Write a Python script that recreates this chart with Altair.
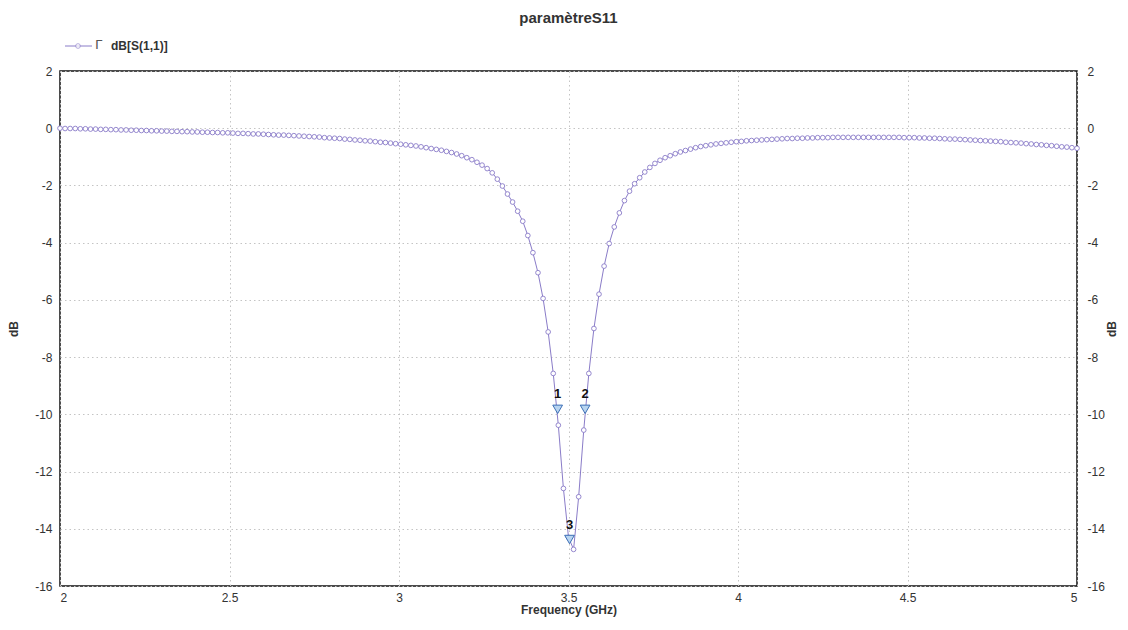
import altair as alt
import pandas as pd

freq_ghz = [
    2.000, 2.015, 2.030, 2.045, 2.060, 2.075, 2.090, 2.105, 2.120, 2.135,
    2.150, 2.165, 2.180, 2.195, 2.210, 2.225, 2.240, 2.255, 2.270, 2.285,
    2.300, 2.315, 2.330, 2.345, 2.360, 2.375, 2.390, 2.405, 2.420, 2.435,
    2.450, 2.465, 2.480, 2.495, 2.510, 2.525, 2.540, 2.555, 2.570, 2.585,
    2.600, 2.615, 2.630, 2.645, 2.660, 2.675, 2.690, 2.705, 2.720, 2.735,
    2.750, 2.765, 2.780, 2.795, 2.810, 2.825, 2.840, 2.855, 2.870, 2.885,
    2.900, 2.915, 2.930, 2.945, 2.960, 2.975, 2.990, 3.005, 3.020, 3.035,
    3.050, 3.065, 3.080, 3.095, 3.110, 3.125, 3.140, 3.155, 3.170, 3.185,
    3.200, 3.215, 3.230, 3.245, 3.260, 3.275, 3.290, 3.305, 3.320, 3.335,
    3.350, 3.365, 3.380, 3.395, 3.410, 3.425, 3.440, 3.455, 3.470, 3.485,
    3.500, 3.515, 3.530, 3.545, 3.560, 3.575, 3.590, 3.605, 3.620, 3.635,
    3.650, 3.665, 3.680, 3.695, 3.710, 3.725, 3.740, 3.755, 3.770, 3.785,
    3.800, 3.815, 3.830, 3.845, 3.860, 3.875, 3.890, 3.905, 3.920, 3.935,
    3.950, 3.965, 3.980, 3.995, 4.010, 4.025, 4.040, 4.055, 4.070, 4.085,
    4.100, 4.115, 4.130, 4.145, 4.160, 4.175, 4.190, 4.205, 4.220, 4.235,
    4.250, 4.265, 4.280, 4.295, 4.310, 4.325, 4.340, 4.355, 4.370, 4.385,
    4.400, 4.415, 4.430, 4.445, 4.460, 4.475, 4.490, 4.505, 4.520, 4.535,
    4.550, 4.565, 4.580, 4.595, 4.610, 4.625, 4.640, 4.655, 4.670, 4.685,
    4.700, 4.715, 4.730, 4.745, 4.760, 4.775, 4.790, 4.805, 4.820, 4.835,
    4.850, 4.865, 4.880, 4.895, 4.910, 4.925, 4.940, 4.955, 4.970, 4.985,
    5.000,
]

s11_db = [
    0.00, -0.01, -0.01, -0.01, -0.02, -0.02, -0.03, -0.03, -0.04, -0.04,
    -0.05, -0.05, -0.06, -0.06, -0.07, -0.07, -0.08, -0.08, -0.09, -0.09,
    -0.10, -0.10, -0.11, -0.11, -0.12, -0.12, -0.13, -0.13, -0.14, -0.14,
    -0.15, -0.15, -0.16, -0.16, -0.17, -0.18, -0.18, -0.19, -0.20, -0.20,
    -0.21, -0.22, -0.23, -0.24, -0.24, -0.25, -0.26, -0.27, -0.28, -0.29,
    -0.30, -0.31, -0.33, -0.34, -0.35, -0.36, -0.38, -0.39, -0.41, -0.42,
    -0.44, -0.45, -0.47, -0.49, -0.50, -0.52, -0.54, -0.56, -0.58, -0.60,
    -0.62, -0.65, -0.68, -0.71, -0.74, -0.77, -0.81, -0.85, -0.90, -0.96,
    -1.03, -1.10, -1.19, -1.29, -1.41, -1.56, -1.78, -2.02, -2.30, -2.58,
    -2.90, -3.25, -3.75, -4.35, -5.05, -5.95, -7.12, -8.57, -10.38, -12.59,
    -14.30, -14.72, -12.88, -10.55, -8.57, -7.00, -5.80, -4.82, -4.03, -3.45,
    -2.96, -2.53, -2.20, -1.94, -1.73, -1.53, -1.37, -1.23, -1.12, -1.03,
    -0.96, -0.89, -0.83, -0.78, -0.73, -0.68, -0.64, -0.61, -0.58, -0.55,
    -0.53, -0.51, -0.49, -0.47, -0.46, -0.44, -0.43, -0.42, -0.41, -0.40,
    -0.39, -0.38, -0.37, -0.36, -0.36, -0.35, -0.35, -0.34, -0.34, -0.33,
    -0.33, -0.33, -0.32, -0.32, -0.32, -0.32, -0.32, -0.32, -0.32, -0.32,
    -0.32, -0.32, -0.32, -0.32, -0.32, -0.32, -0.33, -0.33, -0.33, -0.34,
    -0.34, -0.35, -0.35, -0.36, -0.37, -0.38, -0.38, -0.39, -0.40, -0.41,
    -0.42, -0.43, -0.44, -0.45, -0.46, -0.47, -0.49, -0.50, -0.51, -0.52,
    -0.54, -0.55, -0.57, -0.58, -0.60, -0.61, -0.63, -0.65, -0.66, -0.68,
    -0.70,
]

marker_labels = ["1", "2", "3"]
marker_freq = [3.468, 3.549, 3.503]
marker_db = [-10.0, -10.0, -14.55]

x_ticks = [2, 2.5, 3, 3.5, 4, 4.5, 5]
y_ticks = [2, 0, -2, -4, -6, -8, -10, -12, -14, -16]

LINE = "#8a7cc8"
FONT = "Liberation Sans"
W, H = 1017, 515
GRID = "#c4c4c4"

df = pd.DataFrame({"f": freq_ghz, "db": s11_db})
mk = pd.DataFrame({"f": marker_freq, "db": marker_db, "lab": marker_labels})

x_scale = alt.Scale(domain=[2, 5], nice=False, zero=False)
y_scale = alt.Scale(domain=[-16, 2], nice=False, zero=False)

x_enc = alt.X("f:Q", scale=x_scale,
              axis=alt.Axis(values=x_ticks, format="~g", title="Frequency (GHz)",
                            grid=True, gridDash=[1.5, 3], gridColor=GRID,
                            ticks=False, labelPadding=6, domain=False,
                            titleFontWeight="bold", titleFontSize=12, titlePadding=1,
                            labelFontSize=12, labelColor="#333", titleColor="#333",
                            labelFont=FONT, titleFont=FONT))
x_plain = alt.X("f:Q", scale=x_scale)

line = alt.Chart(df).mark_line(
    color=LINE, strokeWidth=1,
    point=alt.OverlayMarkDef(filled=False, fill="white", color=LINE, size=22, strokeWidth=0.9),
).encode(
    x=x_enc,
    y=alt.Y("db:Q", scale=y_scale,
            axis=alt.Axis(values=y_ticks, labelExpr="datum.value + ''", title="dB",
                          grid=True, gridDash=[1.5, 3], gridColor=GRID,
                          ticks=False, labelPadding=8, domain=False,
                          titleFontWeight="bold", titleFontSize=12, titlePadding=14,
                          labelFontSize=12, labelColor="#333", titleColor="#333",
                          labelFont=FONT, titleFont=FONT)),
)

right_axis = alt.Chart(df).mark_line(opacity=0).encode(
    x=x_plain,
    y=alt.Y("db:Q", scale=y_scale,
            axis=alt.Axis(orient="right", values=y_ticks, labelExpr="datum.value + ''",
                          title="dB", grid=False, ticks=False, labelPadding=10, domain=False,
                          titleFontWeight="bold", titleFontSize=12, titlePadding=14,
                          titleAngle=-90,
                          labelFontSize=12, labelColor="#333", titleColor="#333",
                          labelFont=FONT, titleFont=FONT)),
)

tri = alt.Chart(mk).mark_point(
    shape="triangle-down", filled=True, fill="#b8d4f0", stroke="#3d6fb6",
    strokeWidth=1, size=95, yOffset=-5, opacity=1,
).encode(
    x=x_plain,
    y=alt.Y("db:Q", scale=y_scale, axis=None),
)

tri_lab = alt.Chart(mk).mark_text(
    fontWeight="bold", fontSize=13, color="#111", dy=-20, font=FONT,
).encode(
    x=x_plain,
    y=alt.Y("db:Q", scale=y_scale, axis=None),
    text="lab:N",
)

one = alt.Data(values=[{"a": 1}])
title_mark = alt.Chart(one).mark_text(text="paramètreS11", fontSize=15, fontWeight="bold",
                                      color="#333", font=FONT, baseline="middle").encode(
    x=alt.value(W / 2), y=alt.value(-53))
leg_line = alt.Chart(one).mark_rule(color=LINE, strokeWidth=1).encode(
    x=alt.value(5), x2=alt.value(32), y=alt.value(-25))
leg_pt = alt.Chart(one).mark_point(filled=False, fill="white", color=LINE, size=22, strokeWidth=0.9).encode(
    x=alt.value(18), y=alt.value(-25))
leg_gamma = alt.Chart(one).mark_text(text="Γ", fontSize=13, color="#555", font="DejaVu Sans", align="left").encode(
    x=alt.value(35), y=alt.value(-26))
leg_text = alt.Chart(one).mark_text(text="dB[S(1,1)]", fontSize=12, fontWeight="bold", color="#333", font=FONT, align="left").encode(
    x=alt.value(51), y=alt.value(-25))

chart = alt.layer(
    line, right_axis, tri, tri_lab, title_mark, leg_line, leg_pt, leg_gamma, leg_text
).resolve_scale(y="independent").properties(
    width=W, height=H,
    autosize=alt.AutoSizeParams(type="none"),
    padding={"left": 52, "top": 63, "right": 42, "bottom": 32},
).configure_view(stroke="#111", strokeWidth=1.5)

chart.save("out.html", embed_options={"renderer": "svg", "actions": False})
